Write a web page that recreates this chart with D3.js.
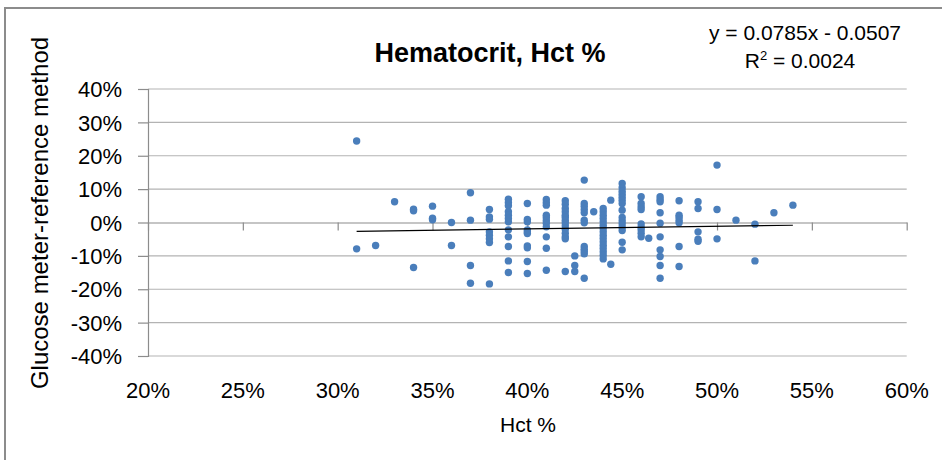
<!DOCTYPE html>
<html><head><meta charset="utf-8">
<script src="https://cdn.jsdelivr.net/npm/d3@7"></script>
<style>
body{margin:0;background:#fff}
svg{display:block}
text{font-family:"Liberation Sans",Arial,sans-serif;fill:#000}
</style>
</head><body>
<svg id="chart" width="942" height="460"></svg>
<script>
// Hematocrit levels (Hct %) and glucose meter - reference differences (%) at each level
const hctLevels = [31, 32, 33, 34, 35, 36, 37, 38, 39, 40, 41, 42, 42.5, 43, 43.5, 44, 44.4, 45, 46, 46.4, 47, 48, 49, 50, 51, 52, 53, 54];
const diffByLevel = [
  [24.4, -7.9],
  [-6.9],
  [6.2],
  [4.0, 3.5, -13.5],
  [4.9, 1.3, 0.8],
  [0.0, -6.9],
  [8.9, 0.7, -12.9, -18.2],
  [3.9, 1.7, 1.0, -2.8, -3.8, -4.9, -6.0, -18.4],
  [7.0, 6.0, 5.0, 3.2, 2.2, 1.2, 0.2, -2.2, -4.3, -7.2, -11.5, -15.0],
  [5.7, 0.9, 0.2, -2.2, -2.8, -3.3, -7.0, -7.6, -11.7, -15.3],
  [6.9, 6.0, 5.2, 2.2, 1.5, 0.6, -0.2, -1.3, -4.3, -7.7, -14.3],
  [6.5, 5.5, 4.2, 3.2, 2.2, 1.6, 0.7, -0.1, -1.0, -2.0, -3.2, -4.3, -4.9, -14.7],
  [-10.0, -12.9, -14.7],
  [12.7, 5.7, 4.9, 3.9, 2.9, 0.7, -0.1, -7.2, -8.0, -8.7, -9.4, -16.7],
  [3.2],
  [4.2, 3.2, 2.2, 1.2, 0.2, -0.8, -1.8, -2.8, -3.8, -4.8, -5.8, -6.8, -7.8, -8.8, -9.8, -10.9],
  [6.7, -12.5],
  [11.7, 10.4, 9.4, 8.5, 7.6, 6.7, 5.7, 3.7, 1.5, 0.5, -0.4, -1.4, -2.4, -5.9, -8.2],
  [7.7, 5.7, 4.7, 3.9, -0.4, -1.4, -2.2, -3.2, -4.3],
  [-4.7],
  [7.7, 6.9, 6.2, 2.9, -0.2, -4.3, -8.2, -10.2, -12.9, -16.7],
  [6.5, 2.2, 1.6, 0.7, -0.1, -7.2, -13.2],
  [6.2, 4.2, -2.8, -5.0, -5.6],
  [17.2, 3.9, -4.9],
  [0.7],
  [-0.5, -11.5],
  [2.9],
  [5.2]
];
const xTicks = [20, 25, 30, 35, 40, 45, 50, 55, 60];
const yTicks = [-40, -30, -20, -10, 0, 10, 20, 30, 40];
const trendSlope = 0.0785;
const trendIntercept = -0.0507;
const trendRange = [31, 54];
const chartTitle = "Hematocrit, Hct %";
const xTitle = "Hct %";
const yTitle = "Glucose meter-reference method";
const eqLine1 = "y = 0.0785x - 0.0507";
const eqLine2 = ["R", "2", " = 0.0024"];

const points = [];
hctLevels.forEach((h, i) => diffByLevel[i].forEach(v => points.push({h, v})));

const svg = d3.select("#chart");
const L = 148, R = 906.7, T = 89, B = 356;
const x = d3.scaleLinear().domain([20, 60]).range([L, R]);
const y = d3.scaleLinear().domain([-40, 40]).range([B, T]);

// chart frame
svg.append("path").attr("d", `M5,460 V8 H942`).attr("fill", "none")
  .attr("stroke", "#8c8c8c").attr("stroke-width", 2);

// gridlines
svg.append("g").selectAll("line").data(yTicks.filter(d => d !== 0)).join("line")
  .attr("x1", L).attr("x2", R).attr("y1", d => y(d)).attr("y2", d => y(d))
  .attr("stroke", "#b3b3b3").attr("stroke-width", 1.2);

// y axis
const yAxis = d3.axisLeft(y).tickValues(yTicks).tickSize(10).tickFormat(d => d + "%");
const gy = svg.append("g").attr("transform", `translate(${L},0)`).call(yAxis);
gy.select(".domain").attr("stroke", "#8c8c8c").attr("stroke-width", 1.2);
gy.selectAll(".tick line").attr("stroke", "#8c8c8c").attr("stroke-width", 1.2);
gy.selectAll(".tick text").attr("x", -26).attr("dy", "0.35em")
  .style("font-size", "22px").style("font-family", '"Liberation Sans",Arial,sans-serif').attr("fill", "#000");

// x axis line at 0, with ticks
const xAxis = d3.axisBottom(x).tickValues(xTicks).tickSize(8).tickSizeOuter(0).tickFormat("");
const gx = svg.append("g").attr("transform", `translate(0,${y(0)})`).call(xAxis);
gx.select(".domain").attr("stroke", "#8c8c8c").attr("stroke-width", 1.2);
gx.selectAll(".tick line").attr("stroke", "#8c8c8c").attr("stroke-width", 1.2);

// x tick labels at bottom
svg.append("g").selectAll("text").data(xTicks).join("text")
  .attr("x", d => x(d)).attr("y", 398).attr("text-anchor", "middle")
  .style("font-size", "22px").text(d => d + "%");

// points
svg.append("g").selectAll("circle").data(points).join("circle")
  .attr("cx", d => x(d.h)).attr("cy", d => y(d.v)).attr("r", 3.7)
  .attr("fill", "#4a7ebb");

// trendline
const trendLine = d3.line().x(d => x(d)).y(d => y((trendSlope * d / 100 + trendIntercept) * 100));
svg.append("path").datum(trendRange).attr("d", trendLine)
  .attr("fill", "none").attr("stroke", "#000").attr("stroke-width", 1.2);

// titles
svg.append("text").attr("x", 490).attr("y", 62).attr("text-anchor", "middle")
  .style("font-size", "27px").style("font-weight", "bold").text(chartTitle);
svg.append("text").attr("x", 528).attr("y", 432).attr("text-anchor", "middle")
  .style("font-size", "21px").text(xTitle);
svg.append("text").attr("transform", "translate(48,213) rotate(-90)").attr("text-anchor", "middle")
  .style("font-size", "24px").text(yTitle);

// equation
svg.append("text").attr("x", 805).attr("y", 40).attr("text-anchor", "middle")
  .style("font-size", "21px").text(eqLine1);
const eq2 = svg.append("text").attr("x", 800).attr("y", 68).attr("text-anchor", "middle").style("font-size", "21px");
eq2.append("tspan").text(eqLine2[0]);
eq2.append("tspan").attr("dy", -8).style("font-size", "13px").text(eqLine2[1]);
eq2.append("tspan").attr("dy", 8).text(eqLine2[2]);
</script>
</body></html>
